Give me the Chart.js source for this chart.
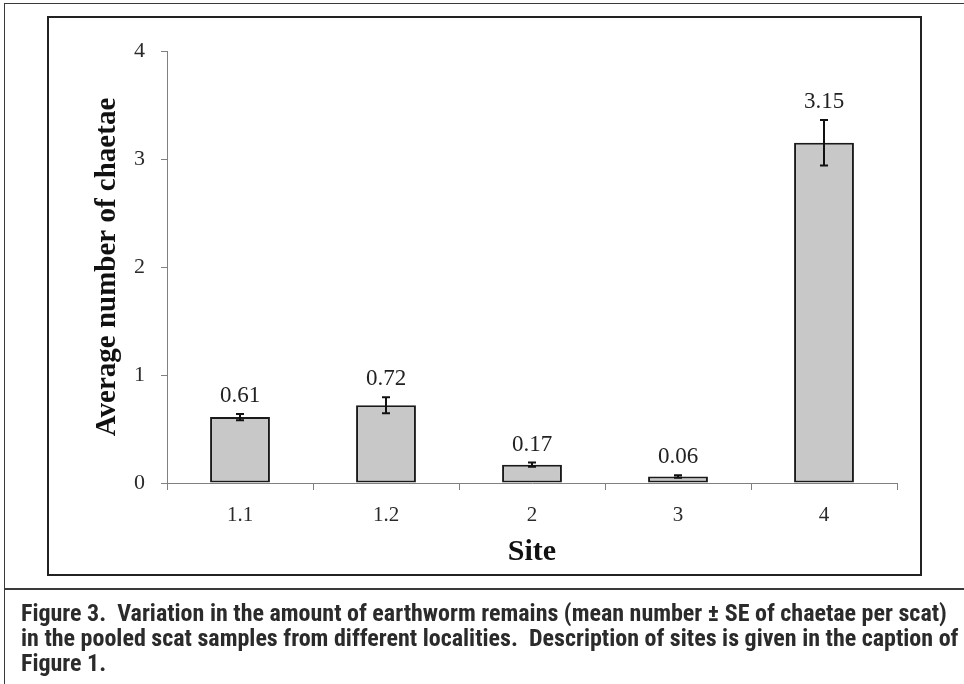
<!DOCTYPE html>
<html>
<head>
<meta charset="utf-8">
<script src="https://cdn.jsdelivr.net/npm/chart.js@4"></script>
<style>
  html, body { margin: 0; padding: 0; background: #fff; }
  #page { position: relative; width: 964px; height: 684px; overflow: hidden; }
  #outer { position: absolute; left: 4px; top: 3px; width: 990px; height: 700px;
           border: 1.5px solid #3a3a3a; box-sizing: border-box; }
  #inner { position: absolute; left: 47px; top: 16px; width: 875px; height: 560px;
           border: 2px solid #222; box-sizing: border-box; }
  #sep { position: absolute; left: 4px; top: 588px; width: 960px; height: 2px; background: #3a3a3a; }
  #chart { position: absolute; left: 0; top: 0; }
  #caption { position: absolute; left: 21px; top: 601px; width: 940px;
             font-family: "Roboto Condensed", "DejaVu Sans Condensed", sans-serif;
             font-weight: bold; font-size: 24px; line-height: 24.8px; color: #2b2b2b; white-space: pre; }
</style>
</head>
<body>
<div id="page">
  <div id="outer"></div>
  <div id="inner"></div>
  <canvas id="chart" width="964" height="684"></canvas>
  <div id="sep"></div>
  <div id="caption">Figure 3.  Variation in the amount of earthworm remains (mean number ± SE of chaetae per scat)
in the pooled scat samples from different localities.  Description of sites is given in the caption of
Figure 1.</div>
</div>
<script>
// data
const sites = ["1.1", "1.2", "2", "3", "4"];
const meanChaetae = [0.61, 0.72, 0.17, 0.06, 3.15];
const seChaetae = [0.028, 0.075, 0.02, 0.012, 0.21];
const valueLabels = ["0.61", "0.72", "0.17", "0.06", "3.15"];

const serif = '"Liberation Serif", "Times New Roman", Times, serif';

// draws the +/- SE whiskers and the value labels above them
const errorBarsPlugin = {
    id: "errorBars",
    afterDatasetsDraw(chart) {
        const ctx = chart.ctx;
        const yScale = chart.scales.y;
        const meta = chart.getDatasetMeta(0);
        ctx.save();
        meta.data.forEach((bar, i) => {
            const x = Math.round(bar.x);
            const yTop = yScale.getPixelForValue(meanChaetae[i] + seChaetae[i]);
            const yBot = yScale.getPixelForValue(meanChaetae[i] - seChaetae[i]);
            ctx.strokeStyle = "#111";
            ctx.lineWidth = 2;
            ctx.beginPath();
            ctx.moveTo(x, yTop);
            ctx.lineTo(x, yBot);
            ctx.moveTo(x - 4, yTop);
            ctx.lineTo(x + 4, yTop);
            ctx.moveTo(x - 4, yBot);
            ctx.lineTo(x + 4, yBot);
            ctx.stroke();

            ctx.fillStyle = "#222";
            ctx.font = "23px " + serif;
            ctx.textAlign = "center";
            ctx.textBaseline = "middle";
            ctx.fillText(valueLabels[i], x, yTop - 18);
        });
        ctx.restore();
    }
};

const ctx = document.getElementById("chart").getContext("2d");
new Chart(ctx, {
    type: "bar",
    data: {
        labels: sites,
        datasets: [{
            data: meanChaetae,
            backgroundColor: "#c8c8c8",
            borderColor: "#1a1a1a",
            borderWidth: 2,
            borderSkipped: false,
            categoryPercentage: 1,
            barPercentage: 0.41
        }]
    },
    options: {
        responsive: false,
        animation: false,
        layout: { padding: { left: 90, right: 67, top: 51, bottom: 114 } },
        plugins: {
            legend: { display: false },
            tooltip: { enabled: false }
        },
        scales: {
            x: {
                afterFit: (s) => { s.height = 87; },
                grid: { drawOnChartArea: false, drawTicks: true, tickLength: 7, color: "#808080", offset: true },
                border: { display: true, color: "#808080", width: 1 },
                ticks: { color: "#2a2a2a", padding: 13, font: { family: serif, size: 21 } },
                title: {
                    display: true, text: "Site", color: "#111",
                    font: { family: serif, size: 30, weight: "bold" },
                    padding: { top: 0, bottom: 0 }
                }
            },
            y: {
                min: 0, max: 4,
                afterFit: (s) => { s.width = 77; },
                grid: { drawOnChartArea: false, drawTicks: true, tickLength: 6, color: "#808080" },
                border: { display: true, color: "#808080", width: 1 },
                ticks: { stepSize: 1, color: "#2a2a2a", padding: 16, font: { family: serif, size: 22 } },
                title: {
                    display: true, text: "Average number of chaetae", color: "#111",
                    font: { family: serif, size: 29, weight: "bold" },
                    padding: { top: 0, bottom: 0 }
                }
            }
        }
    },
    plugins: [errorBarsPlugin]
});
</script>
</body>
</html>
